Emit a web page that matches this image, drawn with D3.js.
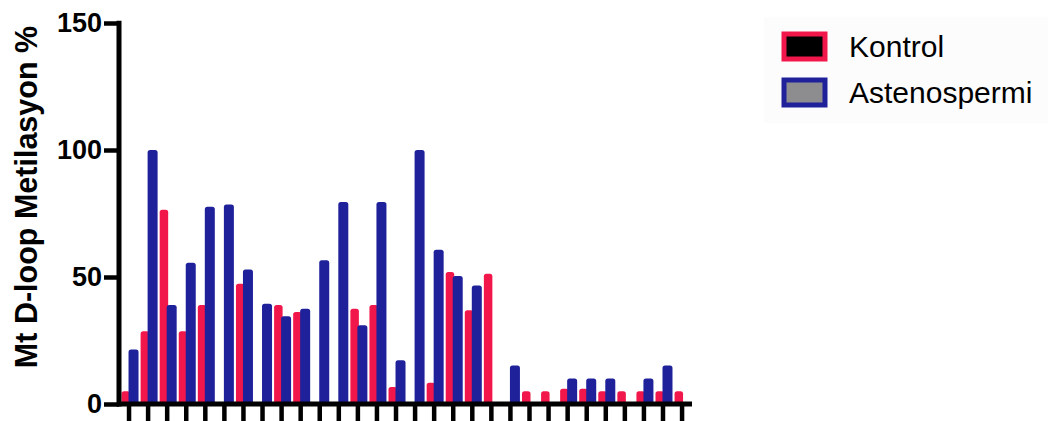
<!DOCTYPE html>
<html>
<head>
<meta charset="utf-8">
<script src="https://cdn.jsdelivr.net/npm/d3@7"></script>
<style>
  html, body { margin: 0; padding: 0; background: #ffffff; }
  svg { display: block; font-family: "Liberation Sans", Arial, sans-serif; }
</style>
</head>
<body>
<svg id="chart" width="1048" height="421"></svg>
<script>
// ---- data ----
const categories = d3.range(1, 31).map(String);
const kontrol = [5, 28.6, 76.5, 28.6, 39, 0, 47.3, 0, 39, 36.2,
                 0, 0, 37.5, 39, 6.7, 0, 8.4, 52, 36.9, 51.3,
                 0, 5, 5, 6, 6, 5, 5, 5, 5, 5];
const astenospermi = [21.5, 100, 39, 55.6, 77.7, 78.5, 53, 39.5, 34.5, 37.5,
                      56.6, 79.5, 31, 79.5, 17.2, 100, 60.7, 50.4, 46.7, 0,
                      15.2, 0, 0, 10, 10, 10, 0, 10, 15.2, 0];
const seriesNames = ["Kontrol", "Astenospermi"];
const yTicks = [0, 50, 100, 150];
const yTitle = "Mt D-loop Metilasyon %";

// ---- styles ----
const RED = "#f2174b";
const BLUE = "#1f219b";
const GRAY = "#8d8c8f";

const svg = d3.select("#chart");

const x = d3.scaleBand().domain(categories).range([119.5, 691.6]).padding(0);
const y = d3.scaleLinear().domain([0, 150]).range([404, 23]);

// legend background
svg.append("rect").attr("x", 764).attr("y", 17).attr("width", 284).attr("height", 106)
  .attr("fill", "#fcfcfc");

// bars
const bw = x.bandwidth();
const barsG = svg.append("g");
barsG.selectAll("rect.k").data(categories.map((c, i) => ({c, v: kontrol[i]})).filter(d => d.v > 0))
  .join("rect").attr("class", "k")
  .attr("x", d => x(d.c) + bw / 2 - 7.5)
  .attr("width", 8.5)
  .attr("y", d => y(d.v))
  .attr("height", d => y(0) - y(d.v))
  .attr("rx", 2.5)
  .attr("fill", RED);
barsG.selectAll("rect.a").data(categories.map((c, i) => ({c, v: astenospermi[i]})).filter(d => d.v > 0))
  .join("rect").attr("class", "a")
  .attr("x", d => x(d.c) + bw / 2 - 0.5)
  .attr("width", 10)
  .attr("y", d => y(d.v))
  .attr("height", d => y(0) - y(d.v))
  .attr("rx", 2.5)
  .attr("fill", BLUE);

// x axis
const xAxis = svg.append("g").attr("transform", `translate(0,${y(0)})`)
  .call(d3.axisBottom(x).tickSize(17).tickSizeOuter(0).tickFormat(""));
xAxis.select(".domain").remove();
xAxis.selectAll(".tick line").attr("stroke", "#000").attr("stroke-width", 4.5);
svg.append("line").attr("x1", 117).attr("x2", 692).attr("y1", y(0)).attr("y2", y(0))
  .attr("stroke", "#000").attr("stroke-width", 5);

// y axis
const yAxis = svg.append("g").attr("transform", "translate(119,0)")
  .call(d3.axisLeft(y).tickValues(yTicks).tickSize(15).tickSizeOuter(0).tickPadding(2));
yAxis.select(".domain").remove();
yAxis.selectAll(".tick line").attr("stroke", "#000").attr("stroke-width", 4.5);
yAxis.selectAll(".tick text").attr("font-size", 27).attr("font-weight", "bold")
  .attr("fill", "#000").attr("font-family", "Liberation Sans, Arial, sans-serif");
svg.append("line").attr("x1", 119).attr("x2", 119).attr("y1", y(150) - 2.25).attr("y2", y(0) + 2.5)
  .attr("stroke", "#000").attr("stroke-width", 5);

// y title
svg.append("text")
  .attr("transform", `translate(37,197) rotate(-90)`)
  .attr("text-anchor", "middle")
  .attr("font-size", 30.5).attr("font-weight", "bold").attr("fill", "#000")
  .text(yTitle);

// legend
const legendColors = [[RED, "#000"], [BLUE, GRAY]];
const lg = svg.append("g");
seriesNames.forEach((name, i) => {
  const top = 34 + i * 46;
  lg.append("rect").attr("x", 784).attr("y", top).attr("width", 41).attr("height", 25)
    .attr("fill", legendColors[i][1]).attr("stroke", legendColors[i][0]).attr("stroke-width", 5);
  lg.append("text").attr("x", 849).attr("y", top + 23)
    .attr("font-size", 30).attr("fill", "#000").text(name);
});
</script>
</body>
</html>
